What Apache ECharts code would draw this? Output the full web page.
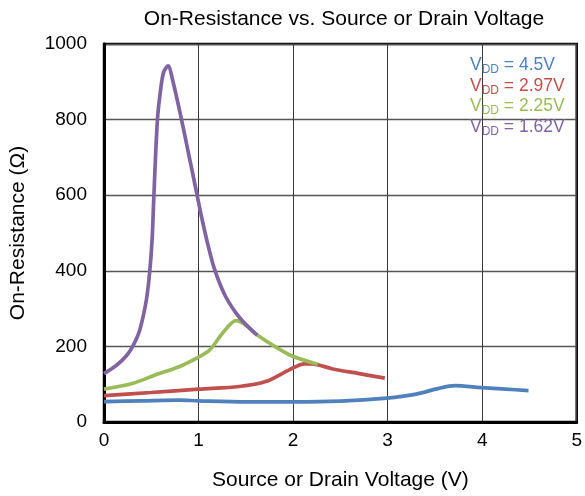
<!DOCTYPE html>
<html>
<head>
<meta charset="utf-8">
<script src="https://cdn.jsdelivr.net/npm/echarts@6/dist/echarts.min.js"></script>
<style>html,body{margin:0;padding:0;background:#fff}#c{width:585px;height:496px}</style>
</head>
<body>
<div id="c"></div>
<script>
// Data
const title = 'On-Resistance vs. Source or Drain Voltage';
const xName = 'Source or Drain Voltage (V)';
const yName = 'On-Resistance (Ω)';
const seriesNames = ['4.5V', '2.97V', '2.25V', '1.62V'];
const colors = ['#4F81BD', '#C0504D', '#9BBB59', '#8064A2'];

const v45 = [0, 0.4, 0.8, 1.0, 1.5, 2.0, 2.5, 2.99, 3.29, 3.54, 3.71, 3.99, 4.25, 4.49];
const r45 = [54, 56, 58, 56, 53, 53, 55, 63, 73, 89, 96, 91, 87, 83];

const v297 = [0, 0.5, 1.0, 1.43, 1.71, 1.96, 2.12, 2.2, 2.41, 2.7, 2.97];
const r297 = [70, 78, 87, 94, 107, 138, 154, 154, 141, 128, 116];

const v225 = [0, 0.3, 0.55, 0.8, 1.01, 1.12, 1.27, 1.397, 1.52, 1.62, 1.96, 2.26];
const r225 = [87, 102, 125, 147, 173, 191, 240, 268, 253, 230, 178, 153];

const v162 = [0, 0.133, 0.239, 0.308, 0.379, 0.449, 0.484, 0.509, 0.526, 0.565, 0.60, 0.63, 0.677, 0.73, 0.82, 0.888, 0.94, 0.986, 1.028, 1.098, 1.168, 1.274, 1.397, 1.519, 1.62];
const r162 = [128, 150, 176, 202, 244, 324, 399, 483, 589, 800, 881, 925, 942, 900, 800, 718, 655, 598, 547, 470, 405, 338, 288, 253, 230];

const xs = [v45, v297, v225, v162];
const ys = [r45, r297, r225, r162];

const FONT = 'Liberation Sans, Arial, sans-serif';
const chart = echarts.init(document.getElementById('c'));
const series = seriesNames.map((n, i) => ({
  name: n,
  type: 'line',
  data: xs[i].map((x, k) => [x, ys[i][k]]),
  smooth: 0.3,
  showSymbol: false,
  lineStyle: { color: colors[i], width: 3.7 },
  itemStyle: { color: colors[i] },
  z: 2 + i
}));

chart.setOption({
  animation: false,
  backgroundColor: '#fff',
  textStyle: { fontFamily: FONT },
  title: {
    text: title, left: 339, top: 4, textAlign: 'center',
    textStyle: { fontSize: 21, fontWeight: 'normal', color: '#000', fontFamily: FONT }
  },
  grid: { left: 104, right: 6, top: 44, bottom: 74, show: true, borderColor: '#000', borderWidth: 2.5, backgroundColor: 'transparent' },
  legend: {
    orient: 'vertical', left: 465, top: 56, padding: 0, itemGap: 0.5, itemWidth: 0, itemHeight: 0, icon: 'none',
    formatter: n => '{v|V}{s|DD}{v| = ' + n + '}',
    data: seriesNames.map((n, i) => ({
      name: n,
      textStyle: {
        color: colors[i],
        rich: {
          v: { fontSize: 17.5, lineHeight: 21.3, color: colors[i], fontFamily: FONT },
          s: { fontSize: 12, lineHeight: 21.3, color: colors[i], verticalAlign: 'bottom', padding: [8, 0, 0, 0], fontFamily: FONT }
        }
      }
    }))
  },
  xAxis: {
    type: 'value', min: 0, max: 5, interval: 1,
    name: xName, nameLocation: 'middle', nameGap: 48,
    nameTextStyle: { fontSize: 21, color: '#000', fontFamily: FONT },
    axisLine: { show: true, lineStyle: { color: '#000', width: 3 } },
    axisTick: { show: false },
    axisLabel: { fontSize: 19, color: '#000', margin: 9, fontFamily: FONT },
    splitLine: { show: true, lineStyle: { color: '#3a3a3a', width: 1 } }
  },
  yAxis: {
    type: 'value', min: 0, max: 1000, interval: 200,
    name: yName, nameLocation: 'middle', nameGap: 75,
    nameTextStyle: { fontSize: 21, color: '#000', fontFamily: FONT },
    axisLine: { show: true, lineStyle: { color: '#000', width: 3 } },
    axisTick: { show: false },
    axisLabel: { fontSize: 19, color: '#000', margin: 17, fontFamily: FONT, formatter: v => String(v) },
    splitLine: { show: true, lineStyle: { color: '#555', width: 1.3 } }
  },
  series: series
});
</script>
</body>
</html>
